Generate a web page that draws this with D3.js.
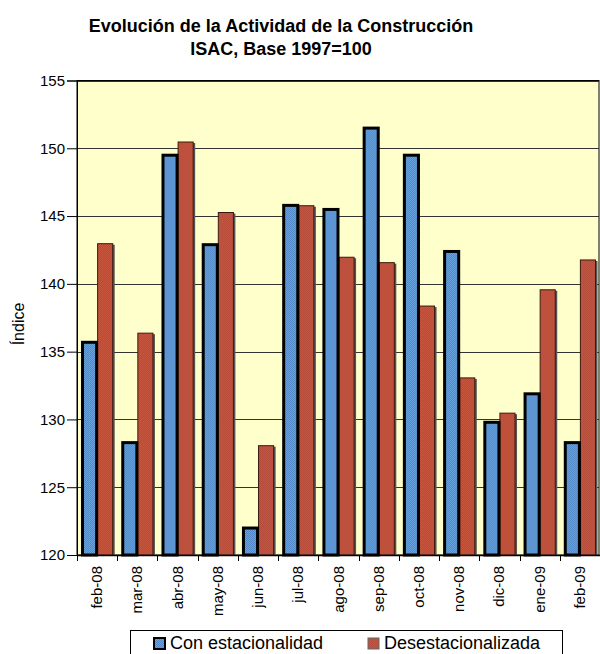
<!DOCTYPE html>
<html>
<head>
<meta charset="utf-8">
<script src="https://cdn.jsdelivr.net/npm/d3@7"></script>
<style>
  html, body { margin: 0; padding: 0; background: #fff; }
  svg { display: block; font-family: "Liberation Sans", Arial, sans-serif; }
</style>
</head>
<body>
<svg id="chart" width="600" height="654"></svg>
<script>
const categories = ["feb-08","mar-08","abr-08","may-08","jun-08","jul-08","ago-08","sep-08","oct-08","nov-08","dic-08","ene-09","feb-09"];
const conEstacionalidad = [135.8, 128.4, 149.6, 143.0, 122.1, 145.9, 145.6, 151.6, 149.6, 142.5, 129.9, 132.0, 128.4];
const desestacionalizada = [143.0, 136.4, 150.5, 145.3, 128.1, 145.8, 142.0, 141.6, 138.4, 133.1, 130.5, 139.6, 141.8];
const seriesNames = ["Con estacionalidad", "Desestacionalizada"];
const yTicks = [120, 125, 130, 135, 140, 145, 150, 155];
const titleLines = ["Evolución de la Actividad de la Construcción", "ISAC, Base 1997=100"];
const yTitle = "Índice";

const svg = d3.select("#chart");
const m = { left: 77, right: 599, top: 80.5, bottom: 555 };

// patterns (dither look)
const defs = svg.append("defs");
function dither(id, c1, c2) {
  const p = defs.append("pattern").attr("id", id).attr("width", 2).attr("height", 2)
    .attr("patternUnits", "userSpaceOnUse");
  p.append("rect").attr("width", 2).attr("height", 2).attr("fill", c1);
  p.append("rect").attr("width", 1).attr("height", 1).attr("fill", c2);
  p.append("rect").attr("x", 1).attr("y", 1).attr("width", 1).attr("height", 1).attr("fill", c2);
}
dither("blueP", "#6aa5e0", "#4f86c6");
dither("redP", "#c8573f", "#b34a3a");

const x0 = d3.scaleBand().domain(categories).range([m.left, 600]).paddingInner(0.2).paddingOuter(0.1);
const x1 = d3.scaleBand().domain(seriesNames).range([0, x0.bandwidth()]);
const y = d3.scaleLinear().domain([120, 155]).range([m.bottom, m.top]);

// plot background
svg.append("rect").attr("x", m.left).attr("y", m.top)
  .attr("width", m.right - m.left).attr("height", m.bottom - m.top)
  .attr("fill", "#ffffcc").attr("stroke", "#000").attr("stroke-width", 1);

// gridlines
svg.append("g").selectAll("line").data(yTicks.slice(1)).join("line")
  .attr("x1", m.left).attr("x2", m.right)
  .attr("y1", d => Math.round(y(d)) + 0.5).attr("y2", d => Math.round(y(d)) + 0.5)
  .attr("stroke", "#333").attr("stroke-width", 1);

const data = categories.map((c, i) => ({ cat: c, vals: [conEstacionalidad[i], desestacionalizada[i]] }));

const groups = svg.append("g").selectAll("g").data(data).join("g")
  .attr("transform", d => `translate(${x0(d.cat)},0)`);

// red (desestacionalizada) with shadow
groups.append("rect")
  .attr("x", x1(seriesNames[1]) + 1.5).attr("y", d => y(d.vals[1]) + 1.5)
  .attr("width", x1.bandwidth()).attr("height", d => y(120) - y(d.vals[1]) - 1.5)
  .attr("fill", "#555");
groups.append("rect")
  .attr("x", x1(seriesNames[1]) + 0.5).attr("y", d => y(d.vals[1]) + 0.5)
  .attr("width", x1.bandwidth() - 1).attr("height", d => y(120) - y(d.vals[1]) - 0.5)
  .attr("fill", "url(#redP)").attr("stroke", "#3a1a10").attr("stroke-width", 1);

// blue (con estacionalidad) thick black border
groups.append("rect")
  .attr("x", x1(seriesNames[0]) + 1.5).attr("y", d => y(d.vals[0]) + 1.5)
  .attr("width", x1.bandwidth() - 2).attr("height", d => y(120) - y(d.vals[0]) - 1.5)
  .attr("fill", "url(#blueP)").attr("stroke", "#000").attr("stroke-width", 3);

// axes
const yAxis = d3.axisLeft(y).tickValues(yTicks).tickSize(10).tickPadding(2).tickFormat(d3.format("d"));
const gy = svg.append("g").attr("transform", `translate(${m.left},0)`).call(yAxis);
gy.select(".domain").attr("stroke", "#000");
gy.selectAll(".tick line").attr("stroke", "#000");
gy.selectAll("text").attr("font-size", 15).attr("fill", "#000").attr("font-family", "Liberation Sans, Arial, sans-serif");

// x axis line and boundary ticks
svg.append("line").attr("x1", m.left).attr("x2", 600).attr("y1", m.bottom + 0.5).attr("y2", m.bottom + 0.5)
  .attr("stroke", "#000").attr("stroke-width", 1.5);
const bounds = categories.map(c => x0(c) - x0.step() * x0.paddingInner() / 2);
bounds.push(600);
svg.append("g").selectAll("line").data(bounds).join("line")
  .attr("x1", d => Math.round(d) + 0.5).attr("x2", d => Math.round(d) + 0.5)
  .attr("y1", m.bottom).attr("y2", m.bottom + 6)
  .attr("stroke", "#000");

// x labels rotated
svg.append("g").selectAll("text").data(categories).join("text")
  .attr("transform", c => `translate(${x0(c) + x0.bandwidth() / 2 + 5},${m.bottom + 11}) rotate(-90)`)
  .attr("text-anchor", "end")
  .attr("font-size", 15)
  .text(c => c);

// y title
svg.append("text").attr("transform", "translate(24,324) rotate(-90)")
  .attr("text-anchor", "middle").attr("font-size", 16).text(yTitle);

// title
svg.append("g").selectAll("text").data(titleLines).join("text")
  .attr("x", 281).attr("y", (d, i) => 32 + i * 23)
  .attr("text-anchor", "middle").attr("font-weight", "bold").attr("font-size", 18)
  .text(d => d);

// legend
const lg = svg.append("g");
lg.append("rect").attr("x", 130.5).attr("y", 630.5).attr("width", 432).attr("height", 25)
  .attr("fill", "#fff").attr("stroke", "#000");
const legendItems = [
  { name: seriesNames[0], x: 154, fill: "url(#blueP)", stroke: "#000", sw: 2 },
  { name: seriesNames[1], x: 368, fill: "url(#redP)", stroke: "#666", sw: 1 }
];
const li = lg.selectAll("g").data(legendItems).join("g");
li.append("rect").attr("x", d => d.x).attr("y", 638).attr("width", 11).attr("height", 11)
  .attr("fill", d => d.fill).attr("stroke", d => d.stroke).attr("stroke-width", d => d.sw);
li.append("text").attr("x", d => d.x + 16).attr("y", 649).attr("font-size", 18).text(d => d.name);
</script>
</body>
</html>
